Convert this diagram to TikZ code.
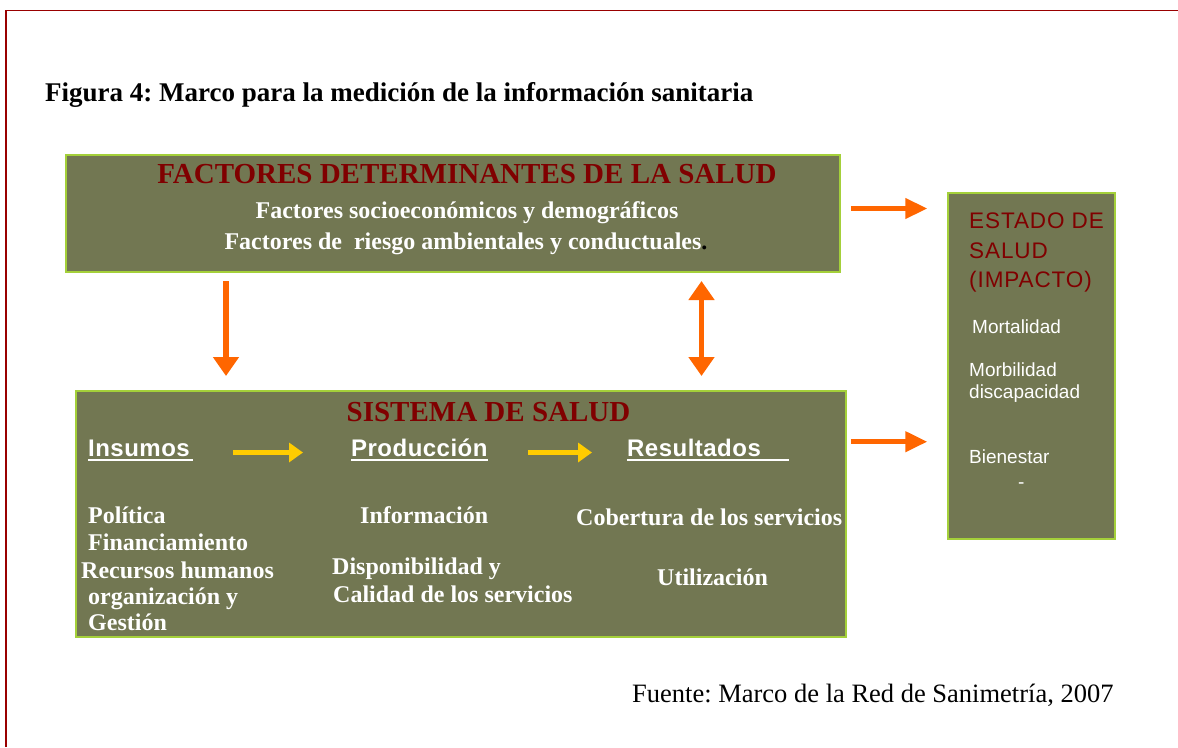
\documentclass[tikz,border=0pt]{standalone}
\usepackage{fontspec}
\setmainfont{Liberation Serif}
\setsansfont{Liberation Sans}
\usetikzlibrary{arrows.meta}
\definecolor{boxfill}{HTML}{727752}
\definecolor{boxline}{HTML}{A4D03A}
\definecolor{dred}{HTML}{800000}
\definecolor{framered}{HTML}{990000}
\definecolor{orarrow}{HTML}{FF6600}
\definecolor{yearrow}{HTML}{FFCC00}
\frenchspacing
\tikzset{
  boxx/.style={draw=boxline, fill=boxfill, line width=1.5pt, inner sep=0pt},
  bigttl/.style={inner sep=0pt, anchor=base, text=dred, font=\bfseries\fontsize{29}{33}\selectfont},
  wtc/.style={inner sep=0pt, anchor=base, text=white, font=\bfseries\fontsize{24}{28}\selectfont},
  wt/.style={inner sep=0pt, anchor=base west, text=white, font=\bfseries\fontsize{24}{28}\selectfont},
  hdr/.style={inner sep=0pt, anchor=base west, text=white, font=\sffamily\bfseries\fontsize{24}{28}\selectfont\addfontfeature{LetterSpace=2}},
  est/.style={inner sep=0pt, anchor=base west, text=dred, font=\sffamily\fontsize{22.5}{26}\selectfont\addfontfeature{LetterSpace=4}},
  ws/.style={inner sep=0pt, anchor=base west, text=white, font=\sffamily\fontsize{19}{22}\selectfont},
  ul/.style={draw=white, line width=2pt},
  oarr/.style={draw=orarrow, line width=4.5pt, -{Triangle[length=22pt,width=20pt]}},
  oarrv/.style={draw=orarrow, line width=5.5pt, -{Triangle[length=19pt,width=25pt]}},
  oarrd/.style={draw=orarrow, line width=5.5pt, {Triangle[length=19pt,width=25pt]}-{Triangle[length=19pt,width=25pt]}},
  yarr/.style={draw=yearrow, line width=4.7pt, -{Triangle[length=14pt,width=19pt]}},
}
\begin{document}
\begin{tikzpicture}[x=1pt,y=-1pt]
\useasboundingbox (0,0) rectangle (1178,747);
\fill[white] (0,0) rectangle (1178,747);
% frame
\draw[framered, line width=1.5pt] (6,747) -- (6,10.5) -- (1178,10.5);

% title
\node[inner sep=0pt, anchor=base west, font=\bfseries\fontsize{27}{31}\selectfont] (title) at (45,101)
  {Figura 4: Marco para la medición de la información sanitaria};

% boxes
\node[boxx, minimum width=774pt, minimum height=117pt] (f) at (453,213.5) {};
\node[boxx, minimum width=770pt, minimum height=246pt] (s) at (461,514) {};
\node[boxx, minimum width=167pt, minimum height=346pt] (e) at (1031.5,366) {};

% box 1 texts
\node[bigttl] (fttl) at (467,183) {FACTORES DETERMINANTES DE LA SALUD};
\node[wtc] (f1) at (467,218) {Factores socioeconómicos y demográficos};
\node[wtc] (f2) at (466,249) {Factores de\ \ riesgo ambientales y conductuales\textcolor{black}{.}};

% box 2 texts
\node[bigttl] (sttl) at (488.5,421.5) {SISTEMA DE SALUD};
\node[hdr] (ins) at (88,456) {Insumos};
\node[hdr] (prod) at (351,456) {Producción};
\node[hdr] (res) at (627,456) {Resultados};
\draw[ul] ([yshift=-4pt]ins.base west) -- ([xshift=3pt,yshift=-4pt]ins.base east);
\draw[ul] ([yshift=-4pt]prod.base west) -- ([xshift=0pt,yshift=-4pt]prod.base east);
\draw[ul] ([yshift=-4pt]res.base west) -- ([xshift=28pt,yshift=-4pt]res.base east);

\node[wt] (pol) at (88,523) {Política};
\node[wt] (fin) at (88,550) {Financiamiento};
\node[wt] (rec) at (81,578) {Recursos humanos};
\node[wt] (org) at (88,604) {organización y};
\node[wt] (ges) at (88,630) {Gestión};
\node[wt] (inf) at (360,523) {Información};
\node[wt] (dis) at (332,574) {Disponibilidad y};
\node[wt] (cal) at (333,602) {Calidad de los servicios};
\node[wt] (cob) at (576,525) {Cobertura de los servicios};
\node[wt] (uti) at (657,585) {Utilización};

% box 3 texts
\node[est] (e1) at (969,228) {ESTADO DE};
\node[est] (e2) at (969,258) {SALUD};
\node[est] (e3) at (969,287) {(IMPACTO)};
\node[ws] (mor) at (972,333) {Mortalidad};
\node[ws] (morb) at (969,376) {Morbilidad};
\node[ws] (disc) at (969,398) {discapacidad};
\node[ws] (bien) at (969,463) {Bienestar};
\node[ws] (dash) at (1018,488) {-};

% source
\node[inner sep=0pt, anchor=base west, font=\fontsize{26.5}{30}\selectfont] (src) at (632,702)
  {Fuente: Marco de la Red de Sanimetría, 2007};

% arrows
\coordinate (a1s) at ([xshift=10pt,yshift=5pt]f.east);
\coordinate (a1t) at ([xshift=-20pt]e.west);
\draw[oarr] (a1s) -- (a1t |- a1s);
\coordinate (a2s) at ([xshift=4pt,yshift=72.3pt]s.east);
\draw[oarr] (a2s) -- (a1t |- a2s);

\coordinate (d1s) at (226,281);
\coordinate (d1e) at (226,376);
\draw[oarrv] (d1s) -- (d1e);
\coordinate (d2s) at (701.5,281);
\coordinate (d2e) at (701.5,376);
\draw[oarrd] (d2s) -- (d2e);

\coordinate (y1s) at (233,452.5);
\coordinate (y1e) at (303,452.5);
\draw[yarr] (y1s) -- (y1e);
\coordinate (y2s) at (528,452.5);
\coordinate (y2e) at (592,452.5);
\draw[yarr] (y2s) -- (y2e);
\end{tikzpicture}
\end{document}
